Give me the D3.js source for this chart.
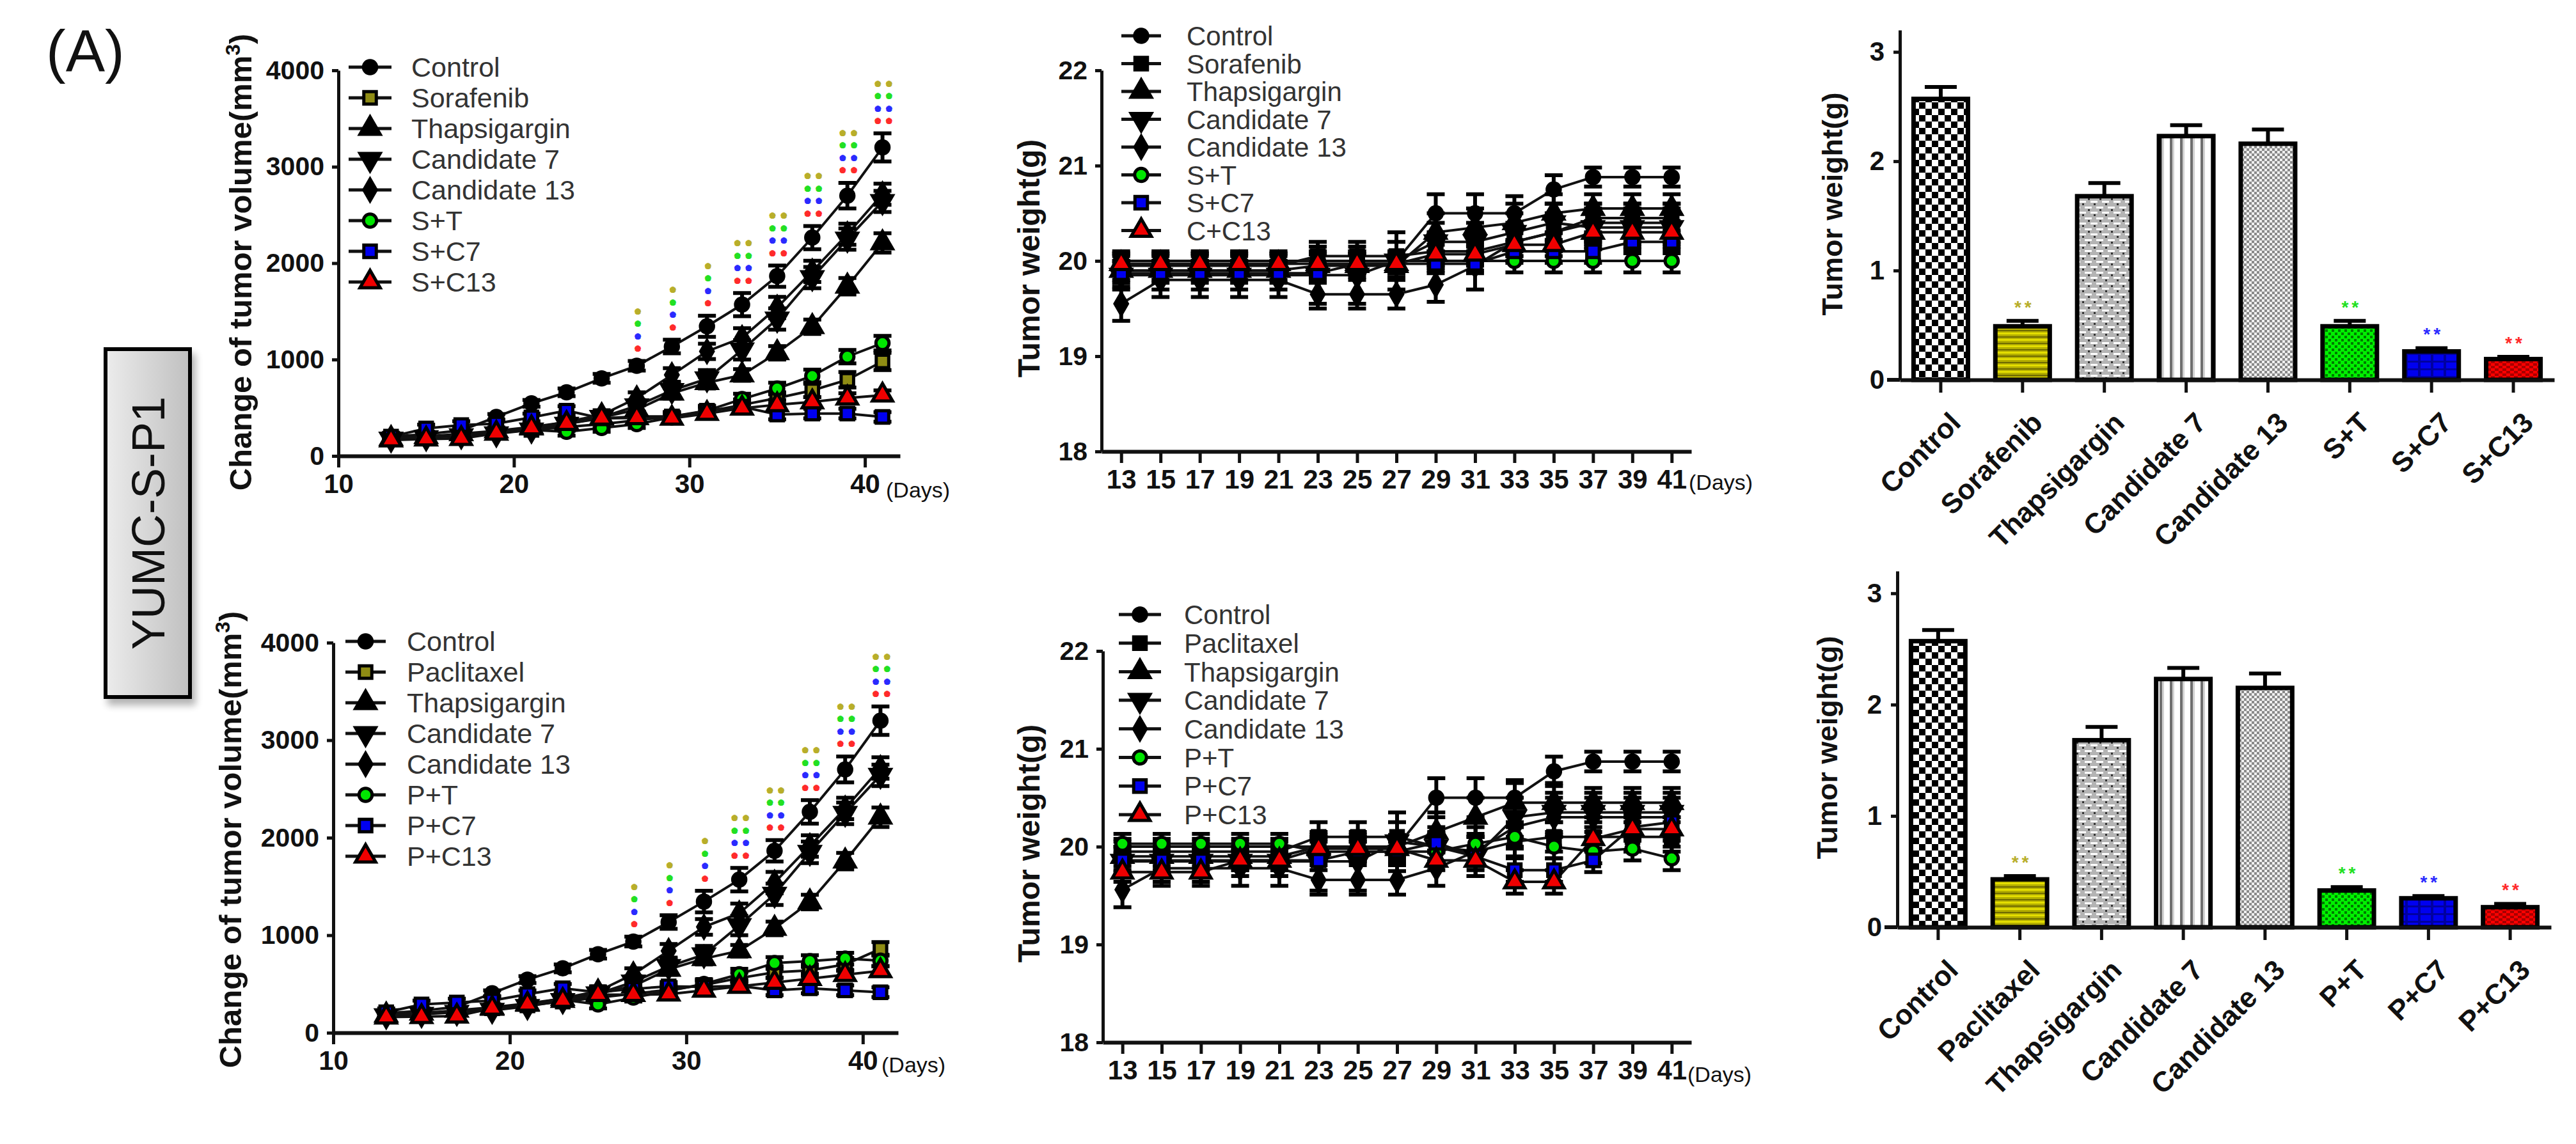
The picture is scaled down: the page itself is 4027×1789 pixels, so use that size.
<!DOCTYPE html>
<html>
<head>
<meta charset="utf-8">
<script src="https://d3js.org/d3.v7.min.js"></script>
<style>body{margin:0;background:#fff}</style>
</head>
<body>
<script>
const days = [13,15,17,19,21,23,25,27,29,31,33,35,37,39,41];

// change of tumor volume (mm3)
const volControl      = [200,225,265,405,545,660,805,935,1135,1345,1570,1865,2265,2700,3200];
const errVolControl   = [25,25,25,30,35,40,45,50,70,110,120,110,120,133,146];
const volThapsigargin = [180,200,230,260,300,350,400,480,650,760,840,1070,1340,1760,2210];
const errVolThap      = [30,30,30,30,35,40,40,45,55,60,60,70,75,85,100];
const volCandidate7   = [175,190,210,230,270,330,400,520,680,800,1100,1420,1850,2250,2640];
const errVolC7        = [30,30,30,30,35,40,50,60,80,90,100,110,110,110,110];
const volCandidate13  = [180,200,215,235,285,355,425,600,840,1085,1225,1540,1915,2300,2715];
const errVolC13       = [30,30,30,30,35,40,50,60,70,80,100,110,110,110,110];
const volSorafenib    = [180,200,220,240,270,300,330,370,410,460,530,600,680,790,980];
const errVolSorafenib = [30,30,30,35,35,40,40,40,45,50,55,60,70,80,90];
const volST           = [180,200,220,240,270,250,290,330,400,470,590,700,830,1030,1170];
const errVolST        = [30,30,30,35,35,40,40,40,45,50,55,60,65,70,75];
const volSC7          = [200,285,320,335,400,470,390,410,410,470,510,430,440,440,405];
const errVolSC7       = [40,40,40,40,40,45,45,45,45,45,50,50,50,50,50];
const volSC13         = [165,175,180,235,290,335,390,395,390,440,495,530,560,600,630];
const errVolSC13      = [35,35,35,35,40,40,40,40,45,45,50,50,50,50,50];
const volPaclitaxel   = [180,200,220,250,280,320,360,400,440,490,560,620,640,700,860];
const errVolPacl      = [30,30,30,35,35,40,40,40,45,50,55,60,60,65,70];
const volPT           = [180,200,220,250,290,340,290,360,430,500,600,715,735,760,740];
const errVolPT        = [30,30,30,35,35,40,40,40,45,50,55,60,60,60,60];
const volPC7          = [210,290,310,330,395,455,415,450,475,470,480,435,455,435,415];
const errVolPC7       = [40,40,40,40,40,45,45,45,45,45,50,50,50,50,50];
const volPC13         = [160,165,170,250,290,330,390,390,395,435,475,515,555,595,635];
const errVolPC13      = [35,35,35,35,40,40,40,40,45,45,50,50,50,50,50];

// body weight (g)
const wtSControl   = [20.0,20.0,20.0,20.0,20.0,20.0,20.0,20.0,20.5,20.5,20.5,20.75,20.88,20.88,20.88];
const wtSSorafenib = [19.95,19.95,19.95,19.95,19.95,20.05,20.05,20.05,20.1,20.1,20.2,20.3,20.45,20.45,20.45];
const wtSThap      = [19.9,19.9,19.9,19.9,19.9,19.95,19.95,19.95,20.3,20.35,20.4,20.5,20.55,20.55,20.55];
const wtSC7        = [19.85,19.85,19.85,19.85,19.85,19.85,19.85,20.0,20.2,20.2,20.3,20.4,20.35,20.35,20.35];
const wtSC13       = [19.55,19.8,19.8,19.8,19.8,19.65,19.65,19.65,19.75,19.95,20.2,20.3,20.4,20.4,20.4];
const wtST         = [20.0,20.0,20.0,20.0,20.0,20.0,20.0,20.0,20.0,20.0,20.0,20.0,20.0,20.0,20.0];
const wtSSC7       = [19.87,19.87,19.87,19.87,19.87,19.87,19.97,19.97,19.97,19.97,20.1,20.1,20.1,20.2,20.2];
const wtCC13       = [19.97,19.97,19.97,19.97,19.97,19.97,19.97,19.97,20.07,20.07,20.17,20.17,20.3,20.3,20.3];
const wtPControl   = [20.0,20.0,20.0,20.0,20.0,20.0,20.0,20.0,20.5,20.5,20.5,20.77,20.87,20.87,20.87];
const wtPPacl      = [19.95,19.95,19.95,19.95,19.95,20.1,20.1,20.1,20.0,19.95,20.05,20.1,20.1,20.1,20.1];
const wtPThap      = [19.9,19.9,19.9,19.9,19.9,20.0,20.0,20.0,20.15,20.3,20.45,20.45,20.45,20.45,20.45];
const wtPC7        = [19.85,19.85,19.85,19.85,19.85,19.85,19.85,20.05,20.0,19.9,20.3,20.35,20.35,20.35,20.35];
const wtPC13       = [19.56,19.78,19.78,19.78,19.78,19.66,19.66,19.66,19.78,19.95,20.2,20.3,20.3,20.3,20.3];
const wtPT         = [20.03,20.03,20.03,20.03,20.03,19.95,19.95,19.95,19.95,20.03,20.1,20.0,19.95,19.98,19.88];
const wtPPC7       = [19.86,19.86,19.86,19.86,19.86,19.86,19.95,19.95,20.04,19.9,19.76,19.76,19.86,20.2,20.25];
const wtPPC13      = [19.74,19.74,19.74,19.86,19.86,19.98,19.98,19.98,19.86,19.86,19.64,19.64,20.08,20.18,20.18];
const errWtControl = [0.08,0.08,0.08,0.08,0.08,0.1,0.1,0.1,0.2,0.2,0.18,0.15,0.1,0.1,0.1];
const errWtDrug    = [0.1,0.1,0.1,0.1,0.1,0.15,0.15,0.15,0.15,0.15,0.15,0.15,0.15,0.15,0.15];
const errWtThap    = [0.1,0.1,0.1,0.1,0.1,0.12,0.12,0.12,0.2,0.2,0.2,0.2,0.15,0.15,0.15];
const errWtC7      = [0.15,0.15,0.15,0.15,0.15,0.3,0.3,0.3,0.2,0.2,0.2,0.2,0.2,0.2,0.2];
const errWtC13     = [0.18,0.18,0.18,0.18,0.18,0.15,0.15,0.15,0.18,0.25,0.2,0.2,0.2,0.2,0.2];
const errWtCombo   = [0.1,0.1,0.1,0.1,0.1,0.1,0.1,0.1,0.1,0.1,0.12,0.12,0.12,0.12,0.12];

// end-point tumor weight (g)
const barGroupsS = ["Control","Sorafenib","Thapsigargin","Candidate 7","Candidate 13","S+T","S+C7","S+C13"];
const barGroupsP = ["Control","Paclitaxel","Thapsigargin","Candidate 7","Candidate 13","P+T","P+C7","P+C13"];
const barWeightS = [2.57,0.49,1.68,2.23,2.16,0.49,0.26,0.19];
const barErrS    = [0.11,0.05,0.12,0.10,0.13,0.05,0.03,0.02];
const barWeightP = [2.57,0.43,1.68,2.23,2.15,0.33,0.26,0.18];
const barErrP    = [0.10,0.03,0.12,0.10,0.13,0.03,0.02,0.03];

const volXTicks = [10,20,30,40];
const volYTicks = [0,1000,2000,3000,4000];
const wtYTicks  = [18,19,20,21,22];
const barYTicks = [0,1,2,3];
const starDays  = [27,29,31,33,35,37,39,41];
const starMarks = ["*","*","*","**","**","**","**","**"];

const FONT = "'Liberation Sans', Arial, Helvetica, sans-serif";
const OLIVE = "#8f8c14", GREEN = "#00e600", BLUE = "#0000f0", RED = "#f00000";
const starColors = ["#ff2a2a","#2a2aff","#22e022","#b8ae2a"]; // bottom to top

const svg = d3.select("body").append("svg").attr("width", 4027).attr("height", 1789)
  .style("background", "#fff");
const defs = svg.append("defs");

function pattern(id, w, h, bg, rects) {
  const p = defs.append("pattern").attr("id", id).attr("patternUnits", "userSpaceOnUse")
    .attr("width", w).attr("height", h);
  p.append("rect").attr("width", w).attr("height", h).attr("fill", bg);
  rects.forEach(r => p.append("rect").attr("x", r[0]).attr("y", r[1]).attr("width", r[2]).attr("height", r[3]).attr("fill", r[4]));
}
pattern("pCheck", 20, 20, "#fff", [[0,0,10,10,"#000"],[10,10,10,10,"#000"]]);
pattern("pYellow", 10, 10, "#b2ac00", [[0,0,10,3,"#e4de00"],[0,6,10,2,"#6e6a00"]]);
pattern("pBrick", 18, 17, "#b4b4b4", [[1,0,11,3,"#fff"],[10,8,8,3,"#fff"],[0,8,3,3,"#fff"],[6,4,3,3,"#333"],[15,12,3,3,"#333"]]);
pattern("pVert", 16, 10, "#fff", [[0,0,4,10,"#6f6f6f"],[4,0,3,10,"#d2d2d2"]]);
pattern("pFine", 8, 8, "#f0f0f0", [[0,0,4,4,"#8a8a8a"],[4,4,4,4,"#8a8a8a"]]);
pattern("pGreen", 10, 10, "#00f000", [[0,0,4,4,"#007a00"],[5,5,4,4,"#007a00"]]);
pattern("pBlue", 20, 12, "#0000f0", [[0,0,4,12,"#0000a0"],[0,0,20,3,"#0000a0"]]);
pattern("pRed", 12, 8, "#ff0000", [[0,0,6,4,"#a80000"],[6,4,6,4,"#a80000"]]);
const barPatterns = ["pCheck","pYellow","pBrick","pVert","pFine","pGreen","pBlue","pRed"];

const grad = defs.append("linearGradient").attr("id", "boxGrad");
grad.append("stop").attr("offset", "0%").attr("stop-color", "#ececec");
grad.append("stop").attr("offset", "100%").attr("stop-color", "#c0c0c0");
const shadow = defs.append("filter").attr("id", "shadow").attr("x", "-30%").attr("y", "-10%").attr("width", "170%").attr("height", "130%");
shadow.append("feGaussianBlur").attr("in", "SourceAlpha").attr("stdDeviation", 6);
shadow.append("feOffset").attr("dx", 6).attr("dy", 10).attr("result", "off");
shadow.append("feComponentTransfer").append("feFuncA").attr("type", "linear").attr("slope", 0.3);
const merge = shadow.append("feMerge");
merge.append("feMergeNode");
merge.append("feMergeNode").attr("in", "SourceGraphic");

const shapes = {circle: d3.symbolCircle, square: d3.symbolSquare, triangle: d3.symbolTriangle,
                down: d3.symbolTriangle, diamond: d3.symbolDiamond};
const symSize = {circle: 330, square: 380, triangle: 430, down: 430, diamond: 330};

function drawMarker(g, cx, cy, shape, fill) {
  g.append("path")
    .attr("d", d3.symbol(shapes[shape], symSize[shape])())
    .attr("transform", `translate(${cx},${cy})` + (shape === "down" ? " rotate(180)" : ""))
    .attr("fill", fill).attr("stroke", "#000").attr("stroke-width", 5);
}

function styleAxis(ax, size, domainW) {
  ax.select(".domain").attr("stroke", "#111").attr("stroke-width", domainW);
  ax.selectAll(".tick line").attr("stroke", "#111").attr("stroke-width", 5);
  ax.selectAll("text").attr("font-size", size).attr("font-family", FONT)
    .attr("font-weight", "bold").attr("fill", "#111");
}

function lineChart(o) {
  const x = d3.scaleLinear().domain(o.xDomain).range(o.xRange);
  const y = d3.scaleLinear().domain(o.yDomain).range(o.yRange);
  const g = svg.append("g");

  const gx = g.append("g").attr("transform", `translate(0,${o.yRange[0]})`)
    .call(d3.axisBottom(x).tickValues(o.xTicks).tickSize(18).tickSizeOuter(0).tickPadding(10).tickFormat(d3.format("d")));
  styleAxis(gx, o.xTickFont, 6);
  const gy = g.append("g").attr("transform", `translate(${o.xRange[0]},0)`)
    .call(d3.axisLeft(y).tickValues(o.yTicks).tickSize(10).tickSizeOuter(0).tickPadding(12).tickFormat(d3.format("d")));
  styleAxis(gy, 41, 5);

  g.append("text").attr("x", o.daysX).attr("y", o.yRange[0] + o.daysDy)
    .attr("font-family", FONT).attr("font-size", 34).attr("fill", "#111").text("(Days)");

  const title = g.append("text")
    .attr("transform", `translate(${o.titleX},${o.titleY}) rotate(-90)`)
    .attr("text-anchor", "middle").attr("dy", "0.35em")
    .attr("font-family", FONT).attr("font-size", o.titleSize).attr("font-weight", "bold").attr("fill", "#111");
  o.title.forEach(t => {
    const s = title.append("tspan").text(t.text);
    if (t.sup) s.attr("baseline-shift", "super").attr("font-size", o.titleSize * 0.65);
  });

  const line = d3.line().x(d => x(d[0])).y(d => y(d[1]));
  o.series.forEach(s => {
    g.append("path").datum(days.map((d, i) => [d, s.values[i]]))
      .attr("d", line).attr("fill", "none").attr("stroke", "#111").attr("stroke-width", 4);
  });
  o.series.forEach(s => {
    days.forEach((d, i) => {
      const y1 = y(s.values[i] - s.errs[i]), y2 = y(s.values[i] + s.errs[i]), cx = x(d);
      g.append("path").attr("d", `M${cx},${y1}V${y2}M${cx - 14},${y1}H${cx + 14}M${cx - 14},${y2}H${cx + 14}`)
        .attr("stroke", "#000").attr("stroke-width", 6).attr("fill", "none");
    });
  });
  o.series.forEach(s => {
    days.forEach((d, i) => drawMarker(g, x(d), y(s.values[i]), s.shape, s.fill));
  });

  if (o.stars) {
    // small stacked significance marks, fattened with a same-colour stroke
    const c = o.series[0];
    starDays.forEach((d, i) => {
      const k = days.indexOf(d);
      const base = y(c.values[k] + c.errs[k]) - 20;   // centre of lowest (red) row
      starColors.forEach((col, j) => {
        g.append("text").attr("x", x(d) + 7).attr("y", base - j * 19.5 + 9.5)
          .attr("text-anchor", "middle").attr("font-family", FONT)
          .attr("font-size", 17).attr("font-weight", "bold").attr("letter-spacing", 11)
          .attr("fill", col).attr("stroke", col).attr("stroke-width", 3.5)
          .attr("stroke-linejoin", "round").text(starMarks[i]);
      });
    });
  }

  const lg = g.append("g");
  o.series.forEach((s, i) => {
    const ly = o.legend.y0 + i * o.legend.dy;
    lg.append("line").attr("x1", o.legend.x0).attr("x2", o.legend.x1).attr("y1", ly).attr("y2", ly)
      .attr("stroke", "#111").attr("stroke-width", 5);
    drawMarker(lg, (o.legend.x0 + o.legend.x1) / 2, ly, s.shape, s.legendFill || s.fill);
    lg.append("text").attr("x", o.legend.tx).attr("y", ly).attr("dy", "0.36em")
      .attr("font-family", FONT).attr("font-size", o.legend.size).attr("fill", "#333").text(s.name);
  });
}

function barChart(o) {
  const x = d3.scaleBand().domain(o.groups).range(o.xRange).paddingInner(0.28).paddingOuter(0.14);
  const y = d3.scaleLinear().domain([0, 3.2]).range(o.yRange);
  const g = svg.append("g");

  g.selectAll("rect.bar").data(o.groups).enter().append("rect")
    .attr("x", d => x(d) + 3.5).attr("width", x.bandwidth() - 7)
    .attr("y", (d, i) => y(o.values[i])).attr("height", (d, i) => y(0) - y(o.values[i]))
    .attr("fill", (d, i) => `url(#${barPatterns[i]})`).attr("stroke", "#000").attr("stroke-width", 7);

  o.groups.forEach((d, i) => {
    const cx = x(d) + x.bandwidth() / 2, y1 = y(o.values[i]), y2 = y(o.values[i] + o.errs[i]);
    g.append("path").attr("d", `M${cx},${y1}V${y2}M${cx - 25},${y2}H${cx + 25}`)
      .attr("stroke", "#000").attr("stroke-width", 6).attr("fill", "none");
  });

  const starCols = {1: "#b8ae2a", 5: "#22e022", 6: "#2a2aff", 7: "#ff2a2a"};
  Object.keys(starCols).forEach(k => {
    const i = +k, cx = x(o.groups[i]) + x.bandwidth() / 2;
    g.append("text").attr("x", cx + 3).attr("y", y(o.values[i] + o.errs[i]) - 28 + 16)
      .attr("text-anchor", "middle").attr("font-family", FONT).attr("font-size", 28)
      .attr("font-weight", "bold").attr("letter-spacing", 5).attr("fill", starCols[k]).text("**");
  });

  g.append("line").attr("x1", o.xRange[0] - 20).attr("x2", o.xRange[0]).attr("y1", y(0)).attr("y2", y(0))
    .attr("stroke", "#111").attr("stroke-width", 6);
  const gx = g.append("g").attr("transform", `translate(0,${y(0)})`)
    .call(d3.axisBottom(x).tickSize(20).tickSizeOuter(0));
  styleAxis(gx, 44, 6);
  gx.selectAll("text").attr("x", 0).attr("y", 0).attr("dy", "0.7em")
    .attr("text-anchor", "end").attr("transform", "translate(12,48) rotate(-45)");

  const gy = g.append("g").attr("transform", `translate(${o.xRange[0]},0)`)
    .call(d3.axisLeft(y).tickValues(barYTicks).tickSize(10).tickSizeOuter(0).tickPadding(14).tickFormat(d3.format("d")));
  styleAxis(gy, 42, 5);

  g.append("text").attr("transform", `translate(${o.titleX},${o.titleY}) rotate(-90)`)
    .attr("text-anchor", "middle").attr("dy", "0.35em")
    .attr("font-family", FONT).attr("font-size", 45).attr("font-weight", "bold").attr("fill", "#111")
    .text("Tumor weight(g)");
}

// panel label and cell line box
svg.append("text").attr("x", 72).attr("y", 112).attr("font-family", FONT).attr("font-size", 92)
  .attr("fill", "#111").text("(A)");
svg.append("rect").attr("x", 165).attr("y", 546).attr("width", 132).attr("height", 544)
  .attr("fill", "url(#boxGrad)").attr("stroke", "#000").attr("stroke-width", 6).attr("filter", "url(#shadow)");
svg.append("text").attr("transform", "translate(231,818) rotate(-90)").attr("text-anchor", "middle")
  .attr("dy", "0.36em").attr("font-family", FONT).attr("font-size", 72).attr("fill", "#111").text("YUMC-S-P1");

const volTitle = [{text: "Change of tumor volume(mm"}, {text: "3", sup: true}, {text: ")"}];

lineChart({
  xDomain: [10, 42], xRange: [529, 1407], yDomain: [0, 4000], yRange: [713, 110],
  xTicks: volXTicks, yTicks: volYTicks, xTickFont: 42, daysX: 1385, daysDy: 65,
  title: volTitle, titleX: 376, titleY: 410, titleSize: 49, stars: true,
  legend: {x0: 545, x1: 612, tx: 643, y0: 105, dy: 48, size: 43},
  series: [
    {name: "Control", values: volControl, errs: errVolControl, shape: "circle", fill: "#000"},
    {name: "Sorafenib", values: volSorafenib, errs: errVolSorafenib, shape: "square", fill: OLIVE},
    {name: "Thapsigargin", values: volThapsigargin, errs: errVolThap, shape: "triangle", fill: "#000"},
    {name: "Candidate 7", values: volCandidate7, errs: errVolC7, shape: "down", fill: "#000"},
    {name: "Candidate 13", values: volCandidate13, errs: errVolC13, shape: "diamond", fill: "#000"},
    {name: "S+T", values: volST, errs: errVolST, shape: "circle", fill: GREEN},
    {name: "S+C7", values: volSC7, errs: errVolSC7, shape: "square", fill: BLUE},
    {name: "S+C13", values: volSC13, errs: errVolSC13, shape: "triangle", fill: RED}
  ]
});

lineChart({
  xDomain: [10, 42], xRange: [521, 1404], yDomain: [0, 4000], yRange: [1615, 1005],
  xTicks: volXTicks, yTicks: volYTicks, xTickFont: 42, daysX: 1378, daysDy: 62,
  title: volTitle, titleX: 360, titleY: 1313, titleSize: 49, stars: true,
  legend: {x0: 540, x1: 603, tx: 636, y0: 1003, dy: 48, size: 43},
  series: [
    {name: "Control", values: volControl, errs: errVolControl, shape: "circle", fill: "#000"},
    {name: "Paclitaxel", values: volPaclitaxel, errs: errVolPacl, shape: "square", fill: OLIVE},
    {name: "Thapsigargin", values: volThapsigargin, errs: errVolThap, shape: "triangle", fill: "#000"},
    {name: "Candidate 7", values: volCandidate7, errs: errVolC7, shape: "down", fill: "#000"},
    {name: "Candidate 13", values: volCandidate13, errs: errVolC13, shape: "diamond", fill: "#000"},
    {name: "P+T", values: volPT, errs: errVolPT, shape: "circle", fill: GREEN},
    {name: "P+C7", values: volPC7, errs: errVolPC7, shape: "square", fill: BLUE},
    {name: "P+C13", values: volPC13, errs: errVolPC13, shape: "triangle", fill: RED}
  ]
});

lineChart({
  xDomain: [12, 42], xRange: [1722, 2644], yDomain: [18, 22], yRange: [706, 110],
  xTicks: days, yTicks: wtYTicks, xTickFont: 42, daysX: 2640, daysDy: 60,
  title: [{text: "Tumor weight(g)"}], titleX: 1608, titleY: 404, titleSize: 48, stars: false,
  legend: {x0: 1753, x1: 1815, tx: 1855, y0: 56, dy: 43.5, size: 42},
  series: [
    {name: "Control", values: wtSControl, errs: errWtControl, shape: "circle", fill: "#000"},
    {name: "Sorafenib", values: wtSSorafenib, errs: errWtDrug, shape: "square", fill: "#000"},
    {name: "Thapsigargin", values: wtSThap, errs: errWtThap, shape: "triangle", fill: "#000"},
    {name: "Candidate 7", values: wtSC7, errs: errWtC7, shape: "down", fill: "#000"},
    {name: "Candidate 13", values: wtSC13, errs: errWtC13, shape: "diamond", fill: "#000"},
    {name: "S+T", values: wtST, errs: errWtCombo, shape: "circle", fill: GREEN},
    {name: "S+C7", values: wtSSC7, errs: errWtCombo, shape: "square", fill: BLUE},
    {name: "C+C13", values: wtCC13, errs: errWtCombo, shape: "triangle", fill: RED}
  ]
});

lineChart({
  xDomain: [12, 42], xRange: [1724, 2644], yDomain: [18, 22], yRange: [1630, 1018],
  xTicks: days, yTicks: wtYTicks, xTickFont: 42, daysX: 2638, daysDy: 62,
  title: [{text: "Tumor weight(g)"}], titleX: 1608, titleY: 1319, titleSize: 48, stars: false,
  legend: {x0: 1749, x1: 1815, tx: 1851, y0: 961, dy: 44.7, size: 42},
  series: [
    {name: "Control", values: wtPControl, errs: errWtControl, shape: "circle", fill: "#000"},
    {name: "Paclitaxel", values: wtPPacl, errs: errWtDrug, shape: "square", fill: "#000"},
    {name: "Thapsigargin", values: wtPThap, errs: errWtThap, shape: "triangle", fill: "#000"},
    {name: "Candidate 7", values: wtPC7, errs: errWtC7, shape: "down", fill: "#000"},
    {name: "Candidate 13", values: wtPC13, errs: errWtC13, shape: "diamond", fill: "#000"},
    {name: "P+T", values: wtPT, errs: errWtCombo, shape: "circle", fill: GREEN},
    {name: "P+C7", values: wtPPC7, errs: errWtCombo, shape: "square", fill: BLUE},
    {name: "P+C13", values: wtPPC13, errs: errWtCombo, shape: "triangle", fill: RED}
  ]
});

barChart({groups: barGroupsS, values: barWeightS, errs: barErrS,
  xRange: [2970, 3993], yRange: [594, 47], titleX: 2864, titleY: 319});
barChart({groups: barGroupsP, values: barWeightP, errs: barErrP,
  xRange: [2966, 3988], yRange: [1450, 893], titleX: 2856, titleY: 1169});
</script>
</body>
</html>
